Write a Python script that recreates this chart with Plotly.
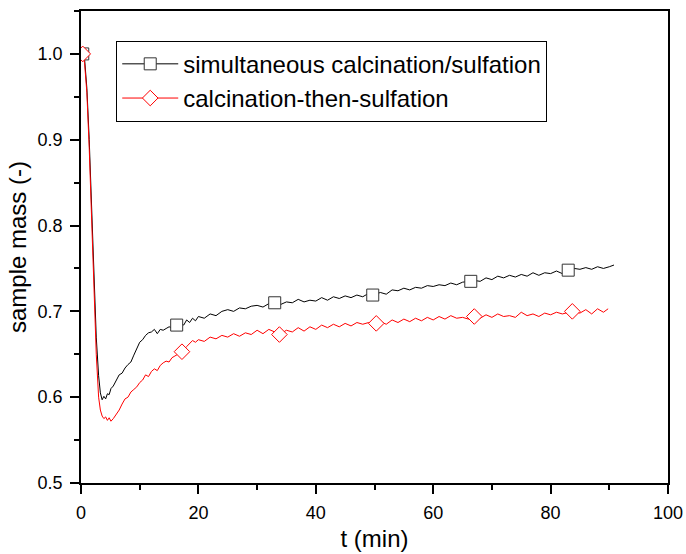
import plotly.graph_objects as go

# --- data ---
t_black = [0, 0.3, 0.6, 1.0, 1.4, 1.8, 2.2, 2.6, 3.0, 3.3, 3.6, 3.9, 4.2, 4.5, 4.8, 5.1, 5.5,
           6.0, 6.5, 7.0, 7.5, 8.0, 8.5, 9.0, 9.5, 10.0, 10.5, 11.0, 11.5, 12.0, 12.5, 13.0,
           13.5, 14.0, 14.5, 15.0, 15.5, 16.3, 17, 17.5, 18, 18.5, 19, 19.5, 20, 21, 22, 23,
           24, 25, 26, 27, 28, 29, 30, 31, 32, 33, 34, 35, 36, 37, 38, 39, 40, 41, 42, 43, 44,
           45, 46, 47, 48, 49, 49.7, 51, 52, 53, 54, 55, 56, 57, 58, 59, 60, 61, 62, 63, 64,
           65, 66.4, 67, 68, 69, 70, 71, 72, 73, 74, 75, 76, 77, 78, 79, 80, 81, 82, 83, 84,
           85, 86, 87, 88, 89, 90, 90.8]
m_black = [1.0, 1.0, 0.995, 0.96, 0.90, 0.82, 0.74, 0.67, 0.625, 0.605, 0.597, 0.601, 0.598,
           0.604, 0.603, 0.610, 0.613, 0.620, 0.626, 0.628, 0.634, 0.638, 0.641, 0.649, 0.657,
           0.664, 0.667, 0.672, 0.675, 0.676, 0.679, 0.674, 0.679, 0.678, 0.680, 0.682, 0.681,
           0.684, 0.686, 0.684, 0.690, 0.687, 0.692, 0.689, 0.694, 0.692, 0.697, 0.695, 0.700,
           0.702, 0.700, 0.704, 0.703, 0.706, 0.707, 0.705, 0.709, 0.710, 0.708, 0.711, 0.710,
           0.714, 0.711, 0.713, 0.712, 0.716, 0.713, 0.717, 0.715, 0.718, 0.716, 0.719, 0.717,
           0.721, 0.719, 0.722, 0.720, 0.725, 0.724, 0.727, 0.725, 0.728, 0.727, 0.730, 0.729,
           0.731, 0.730, 0.733, 0.731, 0.734, 0.735, 0.736, 0.735, 0.739, 0.737, 0.741, 0.739,
           0.742, 0.740, 0.743, 0.741, 0.745, 0.742, 0.745, 0.744, 0.747, 0.744, 0.748, 0.750,
           0.749, 0.751, 0.749, 0.752, 0.750, 0.752, 0.754]
marker_t_black = [0.3, 16.3, 33, 49.7, 66.4, 83]

t_red = [0, 0.3, 0.6, 1.0, 1.4, 1.8, 2.2, 2.6, 3.0, 3.3, 3.6, 3.9, 4.2, 4.5, 4.8, 5.1, 5.5,
         6.0, 6.5, 7.0, 7.5, 8.0, 8.5, 9.0, 9.5, 10.0, 10.5, 11, 11.5, 12, 12.5, 13, 13.5, 14,
         14.5, 15, 15.5, 16, 16.5, 17.2, 18, 18.5, 19, 19.5, 20, 21, 22, 23, 24, 25, 26, 27,
         28, 29, 30, 31, 32, 33, 33.8, 35, 36, 37, 38, 39, 40, 41, 42, 43, 44, 45, 46, 47, 48,
         49, 50.3, 51, 52, 53, 54, 55, 56, 57, 58, 59, 60, 61, 62, 63, 64, 65, 66, 67, 68, 69,
         70, 71, 72, 73, 74, 75, 76, 77, 78, 79, 80, 81, 82, 83.7, 85, 86, 87, 88, 89, 89.8]
m_red = [1.0, 1.0, 0.99, 0.955, 0.89, 0.81, 0.72, 0.65, 0.60, 0.585, 0.578, 0.575, 0.577,
         0.573, 0.576, 0.572, 0.575, 0.580, 0.585, 0.592, 0.598, 0.600, 0.606, 0.609, 0.612,
         0.617, 0.620, 0.626, 0.624, 0.630, 0.633, 0.631, 0.637, 0.640, 0.642, 0.641, 0.646,
         0.648, 0.650, 0.653, 0.659, 0.662, 0.666, 0.664, 0.667, 0.665, 0.670, 0.668, 0.672,
         0.670, 0.674, 0.671, 0.675, 0.673, 0.678, 0.674, 0.679, 0.676, 0.673, 0.678, 0.676,
         0.681, 0.677, 0.682, 0.679, 0.684, 0.681, 0.685, 0.682, 0.686, 0.683, 0.687, 0.685,
         0.687, 0.686, 0.688, 0.685, 0.690, 0.687, 0.691, 0.688, 0.692, 0.689, 0.693, 0.690,
         0.694, 0.691, 0.695, 0.692, 0.693, 0.691, 0.694, 0.692, 0.696, 0.693, 0.697, 0.694,
         0.695, 0.693, 0.699, 0.695, 0.697, 0.694, 0.698, 0.696, 0.699, 0.697, 0.700, 0.698,
         0.702, 0.697, 0.703, 0.699, 0.703]
marker_t_red = [0.3, 17.2, 33.8, 50.3, 67, 83.7]

names = ["simultaneous calcination/sulfation", "calcination-then-sulfation"]
x_ticks = [0, 20, 40, 60, 80, 100]
y_ticks = [0.5, 0.6, 0.7, 0.8, 0.9, 1.0]

FONT = "Arial, 'Liberation Sans', sans-serif"

def pick(ts, ms, sel):
    d = dict(zip(ts, ms))
    return sel, [d[t] for t in sel]

fig = go.Figure()
series = [
    (t_black, m_black, marker_t_black, "black", "square", "#333333", 12),
    (t_red, m_red, marker_t_red, "red", "diamond", "red", 12),
]
for (ts, ms, mt, col, sym, mcol, msz), nm in zip(series, names):
    fig.add_trace(go.Scatter(x=ts, y=ms, mode="lines", line=dict(color=col, width=1),
                             showlegend=False, hoverinfo="skip"))
    mx, my = pick(ts, ms, mt)
    fig.add_trace(go.Scatter(x=mx, y=my, mode="markers", showlegend=False,
                             marker=dict(symbol=sym, size=msz, color="white",
                                         line=dict(color=mcol, width=1))))
for (ts, ms, mt, col, sym, mcol, msz), nm in zip(series, names):
    fig.add_trace(go.Scatter(x=[None], y=[None], mode="lines+markers", name=nm,
                             line=dict(color=col, width=1),
                             marker=dict(symbol=sym, size=msz, color="white",
                                         line=dict(color=mcol, width=1))))

axis_common = dict(showline=True, linecolor="black", linewidth=1.5, mirror=True,
                   ticks="outside", ticklen=9, tickwidth=1.5, tickcolor="black",
                   showgrid=False, zeroline=False, automargin=False,
                   ticklabelstandoff=4,
                   tickfont=dict(family=FONT, size=18, color="black"))
fig.update_xaxes(range=[0, 100], tickvals=x_ticks, ticktext=[str(v) for v in x_ticks],
                 minor=dict(dtick=10, ticks="outside", ticklen=5, tickwidth=1.5,
                            tickcolor="black", showgrid=False),
                 title=dict(text="t (min)", font=dict(family=FONT, size=24, color="black"),
                            standoff=8),
                 **axis_common)
fig.update_yaxes(range=[0.5, 1.05], tickvals=y_ticks, ticktext=[f"{v:.1f}" for v in y_ticks],
                 minor=dict(dtick=0.05, ticks="outside", ticklen=5, tickwidth=1.5,
                            tickcolor="black", showgrid=False),
                 title=dict(text="sample mass (-)", font=dict(family=FONT, size=24, color="black"),
                            standoff=4),
                 **axis_common)

fig.update_layout(
    width=686, height=554,
    margin=dict(l=81, r=18, t=11, b=71),
    paper_bgcolor="white", plot_bgcolor="white",
    font=dict(family=FONT, color="black"),
    legend=dict(x=0.06, y=0.937, xanchor="left", yanchor="top",
                bordercolor="black", borderwidth=1, bgcolor="white",
                font=dict(family=FONT, size=24, color="black"),
                tracegroupgap=0, itemwidth=56),
)
fig.write_html("out.html")
